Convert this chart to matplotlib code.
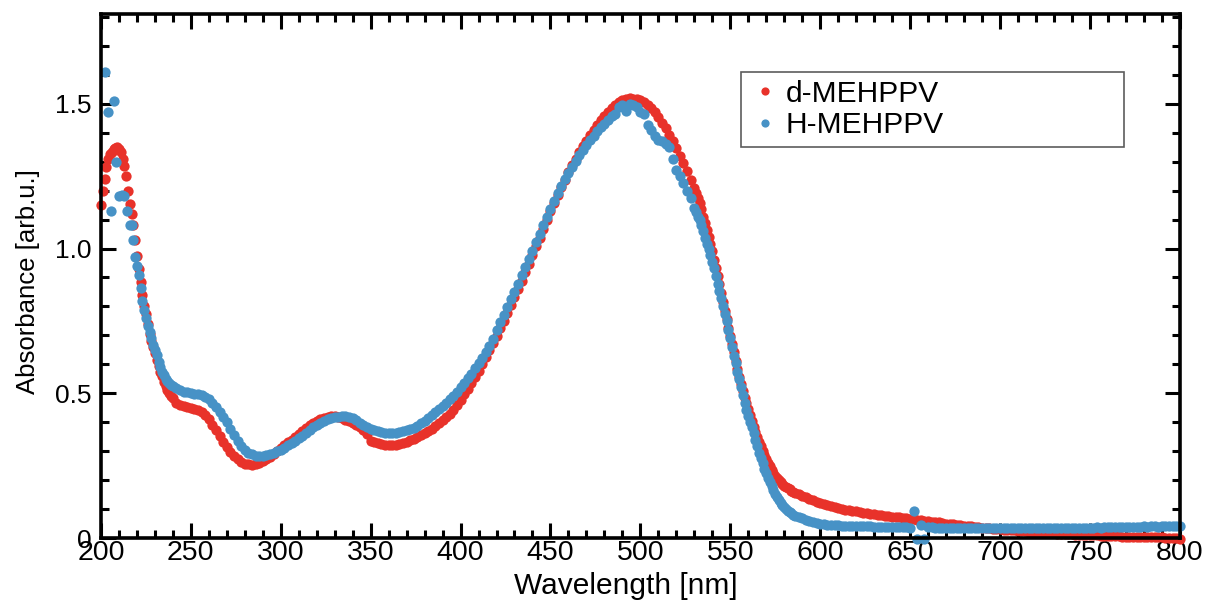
import numpy as np
import matplotlib
matplotlib.use('Agg')
import matplotlib.pyplot as plt
from matplotlib.ticker import MultipleLocator

plt.rcParams['font.family'] = ['Liberation Sans', 'DejaVu Sans']

# d-MEHPPV (red) absorbance in segments
# 200-239 nm, 1 nm step
red_uv = [1.15, 1.20, 1.24, 1.28, 1.31, 1.325, 1.335, 1.343, 1.348, 1.35,
          1.345, 1.335, 1.31, 1.285, 1.25, 1.20, 1.155, 1.12, 1.08, 1.03,
          0.975, 0.93, 0.885, 0.84, 0.80, 0.775, 0.74, 0.705, 0.68, 0.66,
          0.64, 0.615, 0.595, 0.575, 0.56, 0.54, 0.525, 0.512, 0.50, 0.49]
# 240-528 nm, 2 nm step
red_mid = [0.483, 0.468, 0.46, 0.455, 0.452, 0.45, 0.447, 0.442, 0.435, 0.425,
           0.41, 0.392, 0.372, 0.352, 0.333, 0.315, 0.298, 0.283, 0.272, 0.263,
           0.257, 0.254, 0.253, 0.255, 0.26, 0.267, 0.274, 0.281, 0.29, 0.30,
           0.31, 0.32, 0.33, 0.34, 0.35, 0.36, 0.37, 0.38, 0.39, 0.397,
           0.404, 0.41, 0.415, 0.419, 0.421, 0.42, 0.418, 0.414, 0.409, 0.403,
           0.397, 0.39, 0.383, 0.372, 0.358, 0.335, 0.33, 0.327, 0.324, 0.322,
           0.321, 0.322, 0.323, 0.326, 0.329, 0.333, 0.337, 0.342, 0.348, 0.355,
           0.362, 0.37, 0.378, 0.387, 0.397, 0.407, 0.418, 0.43, 0.443, 0.458,
           0.478, 0.496, 0.515, 0.535, 0.556, 0.578, 0.60, 0.624, 0.648, 0.673,
           0.698, 0.724, 0.75, 0.777, 0.804, 0.832, 0.86, 0.889, 0.918, 0.948,
           0.978, 1.008, 1.038, 1.068, 1.098, 1.128, 1.157, 1.185, 1.212, 1.238,
           1.263, 1.287, 1.31, 1.332, 1.353, 1.373, 1.392, 1.41, 1.427, 1.443,
           1.458, 1.472, 1.485, 1.496, 1.505, 1.512, 1.517, 1.519, 1.518, 1.516,
           1.512, 1.505, 1.496, 1.484, 1.47, 1.453, 1.435, 1.415, 1.393, 1.37,
           1.346, 1.32, 1.294, 1.267, 1.238]
# 530-585 nm, 1 nm step
red_edge = [1.21, 1.19, 1.175, 1.157, 1.135, 1.11, 1.088, 1.064, 1.04, 1.015,
            0.99, 0.962, 0.934, 0.904, 0.876, 0.847, 0.816, 0.785, 0.755, 0.727,
            0.698, 0.67, 0.642, 0.613, 0.585, 0.557, 0.532, 0.508, 0.485, 0.465,
            0.445, 0.425, 0.403, 0.383, 0.365, 0.348, 0.333, 0.318, 0.302, 0.287,
            0.273, 0.26, 0.248, 0.235, 0.224, 0.215, 0.207, 0.199, 0.192, 0.186,
            0.181, 0.176, 0.172, 0.168, 0.164, 0.16]
# 586-800 nm, 2 nm step
red_tail = [0.157, 0.151, 0.146, 0.141, 0.136, 0.13, 0.125, 0.121, 0.117, 0.113,
            0.109, 0.106, 0.103, 0.1, 0.098, 0.096, 0.094, 0.092, 0.09, 0.088,
            0.086, 0.084, 0.082, 0.081, 0.079, 0.077, 0.076, 0.074, 0.073, 0.071,
            0.07, 0.068, 0.066, 0.065, 0.063, 0.062, 0.06, 0.058, 0.057, 0.055,
            0.054, 0.052, 0.05, 0.049, 0.047, 0.046, 0.044, 0.043, 0.041, 0.04,
            0.038, 0.037, 0.036, 0.034, 0.033, 0.032, 0.031, 0.03, 0.029, 0.028,
            0.027, 0.026, 0.025, 0.024, 0.023, 0.022, 0.021, 0.02, 0.019, 0.018,
            0.018, 0.017, 0.016, 0.015, 0.015, 0.014, 0.013, 0.013, 0.012, 0.011,
            0.011, 0.01, 0.01, 0.009, 0.009, 0.008, 0.008, 0.007, 0.007, 0.006,
            0.006, 0.005, 0.005, 0.005, 0.004, 0.004, 0.004, 0.003, 0.003, 0.003,
            0.002, 0.002, 0.002, 0.001, 0.001, 0.001, 0.0, -0.002]

# H-MEHPPV (blue): noisy points at the far UV end
blue_start_wl = [202, 204, 205.5, 207, 208.5, 210, 211.5, 213, 214.5, 216, 217, 218]
blue_start = [1.61, 1.47, 1.13, 1.51, 1.30, 1.18, 1.185, 1.18, 1.13, 1.08, 1.08, 1.03]
# 219-239 nm, 1 nm step
blue_uv = [0.97, 0.94, 0.91, 0.865, 0.82, 0.787, 0.76, 0.733, 0.71, 0.69,
           0.668, 0.65, 0.633, 0.608, 0.59, 0.575, 0.562, 0.55, 0.542, 0.535,
           0.53]
# 240-528 nm, 2 nm step
blue_mid = [0.525, 0.517, 0.511, 0.506, 0.503, 0.501, 0.499, 0.497, 0.494, 0.488,
            0.479, 0.466, 0.452, 0.436, 0.419, 0.40, 0.378, 0.356, 0.336, 0.318,
            0.304, 0.295, 0.289, 0.285, 0.283, 0.284, 0.287, 0.291, 0.295, 0.30,
            0.305, 0.312, 0.32, 0.328, 0.336, 0.344, 0.353, 0.362, 0.372, 0.382,
            0.391, 0.399, 0.405, 0.41, 0.414, 0.417, 0.419, 0.421, 0.42, 0.418,
            0.413, 0.406, 0.398, 0.39, 0.383, 0.377, 0.372, 0.368, 0.365, 0.363,
            0.362, 0.362, 0.364, 0.366, 0.369, 0.372, 0.376, 0.381, 0.388, 0.396,
            0.405, 0.414, 0.424, 0.434, 0.445, 0.456, 0.467, 0.479, 0.492, 0.506,
            0.52, 0.535, 0.551, 0.568, 0.586, 0.604, 0.623, 0.643, 0.664, 0.686,
            0.72, 0.745, 0.77, 0.797, 0.824, 0.851, 0.879, 0.907, 0.935, 0.964,
            0.993, 1.022, 1.051, 1.08, 1.108, 1.136, 1.163, 1.19, 1.216, 1.24,
            1.262, 1.283, 1.303, 1.322, 1.34, 1.357, 1.374, 1.39, 1.405, 1.418,
            1.43, 1.445, 1.458, 1.465, 1.49, 1.495, 1.475, 1.50, 1.495, 1.49,
            1.47, 1.465, 1.425, 1.41, 1.39, 1.375, 1.37, 1.36, 1.35, 1.31,
            1.27, 1.25, 1.225, 1.20, 1.175]
# 530-585 nm, 1 nm step
blue_edge = [1.14, 1.125, 1.11, 1.10, 1.08, 1.06, 1.035, 1.015, 0.998, 0.978,
             0.953, 0.932, 0.905, 0.878, 0.853, 0.828, 0.80, 0.775, 0.748, 0.72,
             0.69, 0.66, 0.63, 0.603, 0.575, 0.548, 0.52, 0.495, 0.468, 0.443,
             0.42, 0.40, 0.382, 0.362, 0.34, 0.318, 0.295, 0.275, 0.258, 0.24,
             0.225, 0.208, 0.193, 0.178, 0.165, 0.152, 0.141, 0.131, 0.122, 0.113,
             0.106, 0.10, 0.094, 0.089, 0.085, 0.081]
# 586-800 nm, 2 nm step
blue_tail = [0.077, 0.073, 0.068, 0.063, 0.058, 0.054, 0.051, 0.049, 0.047, 0.046,
             0.045, 0.044, 0.044, 0.043, 0.043, 0.042, 0.042, 0.041, 0.041, 0.04,
             0.04, 0.04, 0.039, 0.039, 0.039, 0.038, 0.038, 0.038, 0.038, 0.037,
             0.037, 0.037, 0.036, 0.094, -0.003, 0.045, -0.002, 0.037, 0.037, 0.036,
             0.036, 0.035, 0.036, 0.035, 0.035, 0.034, 0.035, 0.034, 0.034, 0.035,
             0.034, 0.033, 0.034, 0.034, 0.033, 0.034, 0.033, 0.033, 0.034, 0.033,
             0.033, 0.034, 0.033, 0.034, 0.033, 0.034, 0.034, 0.033, 0.034, 0.034,
             0.035, 0.034, 0.034, 0.035, 0.035, 0.034, 0.035, 0.035, 0.036, 0.035,
             0.036, 0.035, 0.036, 0.036, 0.037, 0.036, 0.037, 0.038, 0.037, 0.038,
             0.038, 0.037, 0.038, 0.039, 0.038, 0.039, 0.039, 0.04, 0.039, 0.04,
             0.04, 0.039, 0.04, 0.041, 0.04, 0.041, 0.04, 0.041]


def seg(start, step, vals):
    return start + step * np.arange(len(vals))


red_wl = np.concatenate([seg(200, 1, red_uv), seg(240, 2, red_mid),
                         seg(530, 1, red_edge), seg(586, 2, red_tail)])
red_abs = np.concatenate([red_uv, red_mid, red_edge, red_tail])

blue_wl = np.concatenate([blue_start_wl, seg(219, 1, blue_uv), seg(240, 2, blue_mid),
                          seg(530, 1, blue_edge), seg(586, 2, blue_tail)])
blue_abs = np.concatenate([blue_start, blue_uv, blue_mid, blue_edge, blue_tail])

red = '#E8322A'
blue = '#4792C6'

fig = plt.figure(figsize=(12.05, 6.01), dpi=100)
ax = fig.add_axes([0.0838, 0.1048, 0.8952, 0.8719])

ax.plot(red_wl, red_abs, 'o', color=red, mec='none', ms=7.4, clip_on=False, label='d-MEHPPV')
ax.plot(blue_wl, blue_abs, 'o', color=blue, mec='none', ms=7.4, clip_on=False, label='H-MEHPPV')

ax.set_xlim(200, 800)
ax.set_ylim(0, 1.81)
ax.xaxis.set_major_locator(MultipleLocator(50))
ax.xaxis.set_minor_locator(MultipleLocator(10))
ax.yaxis.set_minor_locator(MultipleLocator(0.1))
ax.set_yticks([0, 0.5, 1.0, 1.5])
ax.set_yticklabels(['0', '0.5', '1.0', '1.5'])

ax.tick_params(which='both', direction='in', top=True, right=True, width=2.2)
ax.tick_params(which='major', length=11)
ax.tick_params(which='minor', length=5.5)
ax.tick_params(axis='x', labelsize=20.5, pad=1.5)
ax.tick_params(axis='y', labelsize=19, pad=6.5)
for s in ax.spines.values():
    s.set_linewidth(2.6)

ax.set_xlabel('Wavelength [nm]', fontsize=21.5)
ax.set_ylabel('Absorbance [arb.u.]', fontsize=18.5)
ax.xaxis.set_label_coords(0.4866, -0.064)
ax.yaxis.set_label_coords(-0.0565, 0.489)

leg = ax.legend(loc='upper left', bbox_to_anchor=(0.593, 0.75, 0.355, 0.139), mode='expand',
                borderaxespad=0, fontsize=21.5, frameon=True, fancybox=False, markerscale=0.8,
                handletextpad=0.15, borderpad=0.25, labelspacing=0.12, handlelength=1.1)
leg.get_frame().set_edgecolor('#333333')
leg.get_frame().set_linewidth(1.2)

fig.savefig('out.png', dpi=100)
